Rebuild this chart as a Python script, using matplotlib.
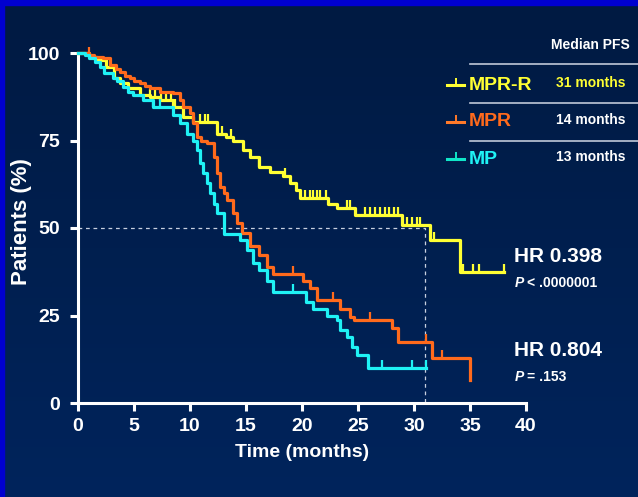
import numpy as np
import matplotlib
matplotlib.use('Agg')
import matplotlib.pyplot as plt
from matplotlib.lines import Line2D
from matplotlib.patches import Rectangle
from matplotlib.path import Path

# Kaplan-Meier step data (time in months, % patients progression free)
mprr_t = [0, 1.0, 1.7, 2.5, 3.2, 3.75, 4.5, 5.5, 6.4, 7.3, 8.5, 9.4, 10.3, 12.4, 13.2, 13.8,
          14.7, 15.4, 16.2, 17.1, 18.3, 18.9, 19.5, 19.8, 22.3, 23.1, 24.7, 28.9, 31.4, 34.1, 38.0]
mprr_s = [100, 99, 98, 96, 93, 91.4, 90, 88, 87.5, 86.6, 84.6, 81.7, 80.3, 77, 76, 75,
          72.3, 70.3, 67.4, 66, 65, 63, 61, 58.6, 57, 55.7, 53.7, 51, 46.6, 37.4, 37.4]
mprr_cens = [6.4, 6.9, 7.4, 7.9, 8.3, 8.7, 10.9, 11.3, 11.6, 12.9, 13.7, 16.2, 18.5,
             20.3, 20.7, 21.0, 21.3, 21.6, 22.1, 24.0, 24.3, 25.6, 26.1, 26.5, 27.0,
             27.4, 27.8, 28.2, 28.6, 29.4, 29.8, 30.3, 30.5, 31.8, 34.4, 35.3, 35.8, 38.0]

mpr_t = [0, 1.0, 1.4, 2.2, 2.9, 3.4, 3.75, 4.2, 4.6, 5.0, 5.5, 6.0, 6.4, 7.3, 8.5, 9.1,
         9.4, 10.0, 10.3, 10.6, 11.0, 11.5, 12.1, 12.4, 12.7, 13.0, 13.3, 13.8, 14.2, 14.6,
         15.4, 16.2, 16.9, 17.4, 20.1, 20.7, 21.3, 23.4, 24.3, 24.6, 28.0, 28.6, 31.6, 35.0]
mpr_s = [100, 99.5, 99, 98.5, 96.6, 95.5, 94.6, 93.5, 92.9, 92, 91.4, 90.5, 90, 89, 88.6, 86.6,
         84.6, 82.9, 80, 76, 75, 74.3, 70.3, 65.7, 61.7, 60, 58, 54.3, 51.4, 48.6,
         45, 42.3, 39, 37, 35, 32.9, 29.4, 27, 24.6, 23.7, 21.5, 17.4, 12.9, 6.6]
mpr_cens = [1.0, 19.2, 22.8, 26.1, 31.1, 32.5]

mp_t = [0, 0.6, 1.0, 1.5, 2.0, 2.3, 3.1, 3.5, 4.0, 4.5, 4.9, 5.8, 6.7, 8.5, 9.1, 9.7,
        10.3, 10.6, 10.9, 11.2, 11.5, 11.8, 12.1, 12.4, 13.0, 14.5, 15.1, 15.6, 16.2, 16.9,
        17.4, 20.1, 20.4, 21.0, 22.2, 23.1, 23.4, 24.0, 24.5, 24.9, 25.9, 31.1]
mp_s = [100, 99.3, 98.6, 97.5, 96, 94.3, 93, 92, 90.3, 89, 88, 86.6, 84.6, 82.3, 80, 77,
        75, 72.3, 68.6, 65.7, 62.9, 60, 57, 54.3, 48.3, 46.6, 43.7, 40, 38, 35,
        31.7, 31.7, 28.9, 27, 25, 23.7, 20.9, 18.9, 16, 13.7, 10, 10]
mp_cens = [6.7, 7.3, 19.2, 27.1, 29.8, 31.1]

series = [
    ('MPR-R', mprr_t, mprr_s, mprr_cens, '#ffff33', '31 months'),
    ('MPR', mpr_t, mpr_s, mpr_cens, '#ff6a1c', '14 months'),
    ('MP', mp_t, mp_s, mp_cens, '#1ff2f5', '13 months'),
]
legend_marker_colors = ['#ffff33', '#ff7a2a', '#10e6c8']
month_colors = ['#ffff33', 'white', 'white']

median_pfs = 31
hr_texts = [('HR 0.398', '< .0000001'), ('HR 0.804', '= .153')]

W, H = 638, 497
FONT = 'Liberation Sans'


def fx(px):
    return px / W


def fy(py):
    return 1 - py / H


def surv_at(times, surv, t):
    i = np.searchsorted(times, t, side='right') - 1
    return surv[i]


# censor mark: a short vertical tick sitting on top of the line
cens_marker = Path([(0, 0), (0, 1)], [Path.MOVETO, Path.LINETO])

fig = plt.figure(figsize=(W / 100, H / 100), dpi=100)

# background gradient
bg = fig.add_axes([0, 0, 1, 1], zorder=-10)
grad = np.linspace(0, 1, 256)[:, None]
top = np.array([0, 26, 66]) / 255.
bot = np.array([0, 36, 92]) / 255.
img = top[None, None, :] * (1 - grad[:, :, None]) + bot[None, None, :] * grad[:, :, None]
bg.imshow(np.repeat(img, 2, axis=1), aspect='auto', extent=[0, 1, 0, 1])
bg.set_axis_off()
fig.add_artist(Rectangle((0, fy(5)), 1, 5 / H, transform=fig.transFigure,
                         color='#0000d0', zorder=5))
fig.add_artist(Rectangle((0, 0), 4 / W, 1, transform=fig.transFigure,
                         color='#0000d0', zorder=5))

ax = fig.add_axes([fx(78), fy(403), fx(526) - fx(78), fy(53) - fy(403)])
ax.set_facecolor('none')
ax.set_xlim(0, 40)
ax.set_ylim(0, 100)

for name, t, s, cens, color, med in series:
    ax.plot(t, s, drawstyle='steps-post', color=color, lw=2.3, clip_on=False, zorder=3)
    cy = [surv_at(np.array(t), np.array(s), c) for c in cens]
    ax.plot(cens, cy, ls='none', marker=cens_marker, markersize=11,
            markeredgecolor=color, markeredgewidth=1.6, clip_on=False, zorder=3)

# median reference line
ax.plot([0, median_pfs, median_pfs], [50, 50, 0], color='#c8d0e0', lw=0.9,
        dashes=(3, 3), zorder=2)

for side in ['top', 'right']:
    ax.spines[side].set_visible(False)
for side in ['left', 'bottom']:
    ax.spines[side].set_color('white')
    ax.spines[side].set_linewidth(2.2)

ax.set_xticks(np.arange(0, 41, 5))
ax.set_yticks([0, 25, 50, 75, 100])
ax.tick_params(colors='white', width=2.2, length=6, direction='out', pad=5)
ax.tick_params(axis='y', pad=7)
for lab in ax.get_xticklabels() + ax.get_yticklabels():
    lab.set_fontfamily(FONT)
    lab.set_fontweight('bold')
    lab.set_fontsize(14)
    lab.set_color('white')

ax.set_xlabel('Time (months)', fontsize=14, fontweight='bold', color='white',
              family=FONT, labelpad=6)
fig.text(fx(22), fy(222), 'Patients (%)', rotation=90, ha='center', va='center',
         fontsize=16, fontweight='bold', color='white', family=FONT)

# legend block
fig.text(fx(630), fy(45), 'Median PFS', ha='right', va='center', fontsize=10,
         fontweight='bold', color='white', family=FONT)
for py in [64, 103, 141]:
    fig.add_artist(Line2D([fx(470), 1], [fy(py), fy(py)], transform=fig.transFigure,
                          color='#c0c8d8', lw=1.2))
leg_y = [85, 122, 159]
for (name, t, s, cens, color, med), mcol, tcol, py in zip(series, legend_marker_colors,
                                                          month_colors, leg_y):
    fig.add_artist(Line2D([fx(447), fx(464)], [fy(py), fy(py)], transform=fig.transFigure,
                          color=mcol, lw=2.2))
    fig.add_artist(Line2D([fx(455.5)], [fy(py)], transform=fig.transFigure, ls='none',
                          marker=cens_marker, markersize=10, markeredgecolor=mcol,
                          markeredgewidth=1.4))
    fig.text(fx(469), fy(py), name, ha='left', va='center', fontsize=14,
             fontweight='bold', color=color, family=FONT)
    fig.text(fx(626), fy(py - 2), med, ha='right', va='center', fontsize=10,
             fontweight='bold', color=tcol, family=FONT)

# hazard ratios
for (hr, pv), py in zip(hr_texts, [256, 350]):
    fig.text(fx(514), fy(py), hr, ha='left', va='center', fontsize=15,
             fontweight='bold', color='white', family=FONT)
    fig.text(fx(515), fy(py + 27), 'P', ha='left', va='center', fontsize=10,
             fontweight='bold', style='italic', color='white', family=FONT)
    fig.text(fx(527), fy(py + 27), pv, ha='left', va='center', fontsize=10,
             fontweight='bold', color='white', family=FONT)

fig.savefig('out.png', dpi=100, facecolor=fig.get_facecolor())
